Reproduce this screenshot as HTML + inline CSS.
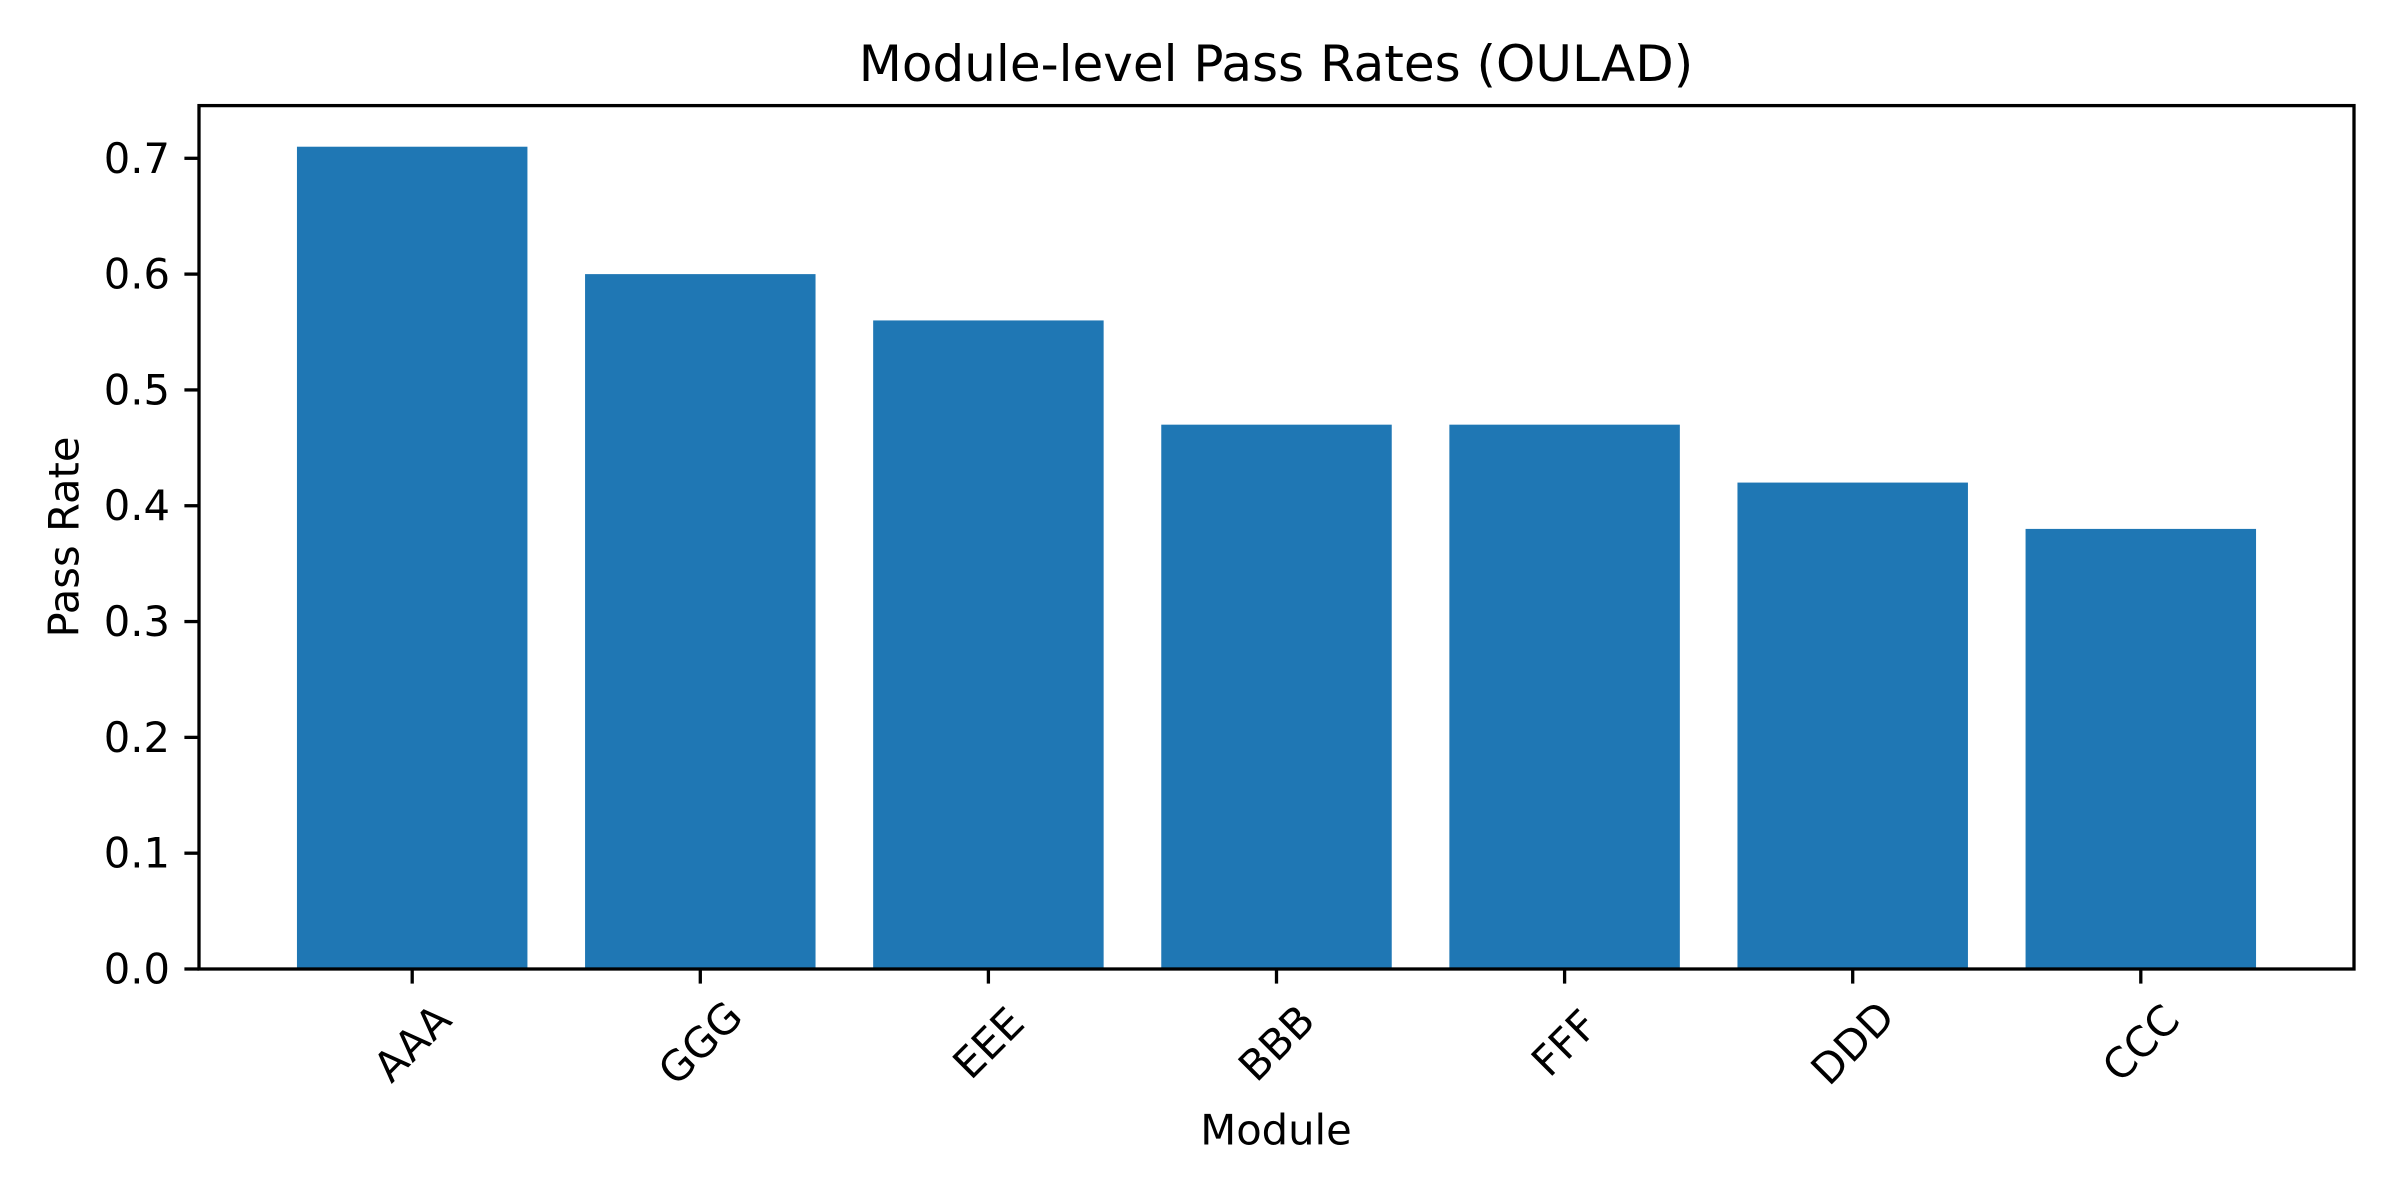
<!DOCTYPE html>
<html><head><meta charset="utf-8"><style>
html,body{margin:0;padding:0;background:#fff}
svg{display:block;font-family:"DejaVu Sans","Liberation Sans",sans-serif}
</style></head><body>
<svg id="chart" width="2400" height="1200" viewBox="0 0 2400 1200" xmlns="http://www.w3.org/2000/svg">
<rect width="2400" height="1200" fill="#fff"/>
<text x="1276" y="64" font-size="50" text-anchor="middle" dominant-baseline="central">Module-level Pass Rates (OULAD)</text>
<g id="bars"></g>
<g id="yticks"></g>
<g id="xticks"></g>
<rect x="199" y="105.6" width="2155" height="863.4" fill="none" stroke="#000" stroke-width="3.3"/>
<text x="1276" y="1130" font-size="41.67" text-anchor="middle" dominant-baseline="central">Module</text>
<text x="64" y="537" font-size="41.67" text-anchor="middle" dominant-baseline="central" transform="rotate(-90 64 537)">Pass Rate</text>
</svg>
<script>
const categories = ["AAA","GGG","EEE","BBB","FFF","DDD","CCC"];
const passRates = [0.71,0.60,0.56,0.47,0.47,0.42,0.38];
const yTicks = [0,0.1,0.2,0.3,0.4,0.5,0.6,0.7];
const yTickLabels = ["0.0","0.1","0.2","0.3","0.4","0.5","0.6","0.7"];

const NS = "http://www.w3.org/2000/svg";
const L = 199, R = 2354, T = 105.6, B = 969;
const n = categories.length;
const xmin = -0.4 - 0.05*(n-1+0.8), xmax = n-1+0.4 + 0.05*(n-1+0.8);
const ymax = Math.max(...passRates)*1.05;
function xs(v){ return L + (v - xmin)/(xmax - xmin)*(R - L); }
function ys(v){ return B - v/ymax*(B - T); }

const gb = document.getElementById('bars');
const gx = document.getElementById('xticks');
const gy = document.getElementById('yticks');
categories.forEach((c,i)=>{
  const r = document.createElementNS(NS,'rect');
  
  
  const x0 = xs(i-0.4), x1 = xs(i+0.4);
  r.setAttribute('x', x0); r.setAttribute('width', x1-x0);
  r.setAttribute('y', ys(passRates[i])); r.setAttribute('height', B - ys(passRates[i]));
  r.setAttribute('fill', '#1f77b4');
  gb.appendChild(r);
  const cx = xs(i);
  const tk = document.createElementNS(NS,'line');
  
  
  tk.setAttribute('x1', cx); tk.setAttribute('x2', cx);
  tk.setAttribute('y1', B); tk.setAttribute('y2', B+14.6);
  tk.setAttribute('stroke', '#000'); tk.setAttribute('stroke-width', '3.3');
  gx.appendChild(tk);
  const t = document.createElementNS(NS,'text');
  
  
  const cy = 1043;
  t.setAttribute('x', cx); t.setAttribute('y', cy);
  t.setAttribute('font-size', '41.67');
  t.setAttribute('text-anchor', 'middle');
  t.setAttribute('dominant-baseline', 'central');
  t.setAttribute('transform', `rotate(-45 ${cx} ${cy})`);
  t.textContent = c;
  gx.appendChild(t);
});
yTicks.forEach((v,i)=>{
  const y = ys(v);
  const tk = document.createElementNS(NS,'line');
  
  
  tk.setAttribute('x1', L-14.6); tk.setAttribute('x2', L);
  tk.setAttribute('y1', y); tk.setAttribute('y2', y);
  tk.setAttribute('stroke', '#000'); tk.setAttribute('stroke-width', '3.3');
  gy.appendChild(tk);
  const t = document.createElementNS(NS,'text');
  
  
  t.setAttribute('x', L-29); t.setAttribute('y', y);
  t.setAttribute('font-size', '41.67');
  t.setAttribute('text-anchor', 'end');
  t.setAttribute('dominant-baseline', 'central');
  t.textContent = yTickLabels[i];
  gy.appendChild(t);
});
</script>
</body></html>
